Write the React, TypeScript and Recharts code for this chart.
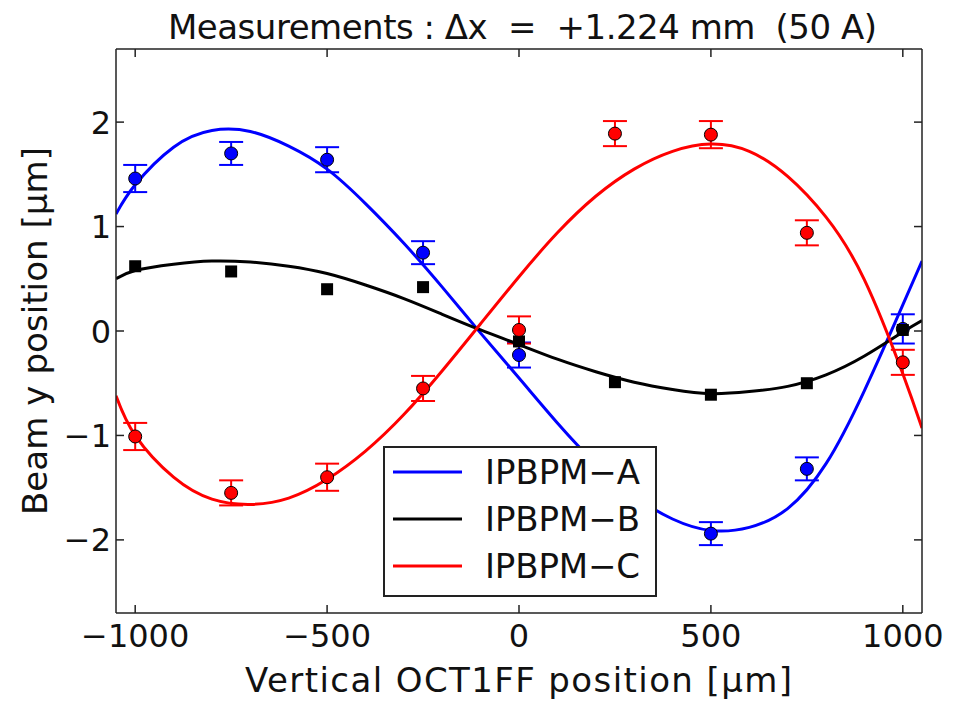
import { ComposedChart, ErrorBar, Line, Scatter, XAxis, YAxis } from "recharts";

// measured OCT1FF positions [um] and beam positions [um]
const positions = [-1000, -750, -500, -250, 0, 250, 500, 750, 1000];
const measA = [1.46, 1.7, 1.64, 0.75, -0.23, -1.45, -1.94, -1.32, 0.02];
const errA = [0.13, 0.11, 0.12, 0.11, 0.12, 0.12, 0.11, 0.11, 0.14];
const measB = [0.62, 0.57, 0.4, 0.42, -0.1, -0.49, -0.61, -0.5, 0.01];
const measC = [-1.01, -1.55, -1.4, -0.55, 0.01, 1.89, 1.88, 0.94, -0.3];
const errC = [0.13, 0.12, 0.13, 0.12, 0.13, 0.12, 0.13, 0.12, 0.12];

// fitted curves
const fitX = [-1050, -1000, -900, -800, -700, -600, -500, -400, -300, -200, -100, 0, 100, 200, 300, 400, 500, 600, 700, 800, 900, 1000, 1050];
const fitA = [1.12, 1.4, 1.76, 1.92, 1.91, 1.77, 1.55, 1.22, 0.84, 0.42, -0.02, -0.45, -0.88, -1.27, -1.58, -1.8, -1.91, -1.88, -1.7, -1.27, -0.57, 0.25, 0.67];
const fitB = [0.5, 0.58, 0.64, 0.67, 0.66, 0.62, 0.55, 0.44, 0.31, 0.16, 0.01, -0.13, -0.27, -0.39, -0.49, -0.56, -0.6, -0.58, -0.53, -0.42, -0.24, -0.01, 0.1];
const fitC = [-0.62, -1.0, -1.4, -1.61, -1.66, -1.6, -1.42, -1.15, -0.8, -0.38, 0.07, 0.52, 0.94, 1.29, 1.55, 1.72, 1.79, 1.72, 1.48, 1.09, 0.49, -0.41, -0.93];

const xTicks = [-1000, -500, 0, 500, 1000];
const yTicks = [-2, -1, 0, 1, 2];
const seriesNames = ["IPBPM\u2212A", "IPBPM\u2212B", "IPBPM\u2212C"];

const BLUE = "#0000ff";
const RED = "#ff0000";
const BLACK = "#000000";
const AXIS = "#222";

// no serif face in the sandbox, DejaVu Sans has about the same widths as the original labels
const font = "DejaVu Sans";

const toPoints = (xs: number[], ys: number[], es?: number[]) =>
  xs.map((x, i) => ({ x, y: ys[i], e: es ? es[i] : 0 }));

const fmt = (v: number) => (v < 0 ? "\u2212" + Math.abs(v) : String(v));

const BottomTick = (p: any) => (
  <g>
    <line x1={p.x} y1={p.y} x2={p.x} y2={p.y - 8} stroke={AXIS} strokeWidth={1.5} />
    <text x={p.x} y={p.y + 34} textAnchor="middle" style={{ fontFamily: font }} fontSize={32} fill="#111">
      {fmt(p.payload.value)}
    </text>
  </g>
);

const LeftTick = (p: any) => (
  <g>
    <line x1={p.x} y1={p.y} x2={p.x + 8} y2={p.y} stroke={AXIS} strokeWidth={1.5} />
    <text x={p.x - 5} y={p.y + 11.5} textAnchor="end" style={{ fontFamily: font }} fontSize={32} fill="#111">
      {fmt(p.payload.value)}
    </text>
  </g>
);

const TopTick = (p: any) => (
  <line x1={p.x} y1={p.y} x2={p.x} y2={p.y + 8} stroke={AXIS} strokeWidth={1.5} />
);

const RightTick = (p: any) => (
  <line x1={p.x} y1={p.y} x2={p.x - 8} y2={p.y} stroke={AXIS} strokeWidth={1.5} />
);

const dotShape = (color: string) => (p: any) => (
  <circle cx={p.cx} cy={p.cy} r={6.5} fill={color} stroke="#000" strokeWidth={1} />
);

const squareShape = (p: any) => <rect x={p.cx - 6} y={p.cy - 6} width={12} height={12} fill={BLACK} />;

function LegendBox() {
  const colors = [BLUE, BLACK, RED];
  return (
    <svg
      width={274}
      height={151}
      style={{ position: "absolute", left: 375, top: 438, pointerEvents: "none" }}
    >
      <rect x={1} y={1} width={272} height={149} fill="#fff" stroke={AXIS} strokeWidth={2} />
      {seriesNames.map((name, i) => (
        <g key={name}>
          <line x1={10} x2={79} y1={26 + i * 47} y2={26 + i * 47} stroke={colors[i]} strokeWidth={3} />
          <text
            x={102}
            y={38 + i * 47}
            style={{ fontFamily: font }}
            fontSize={34}
            textLength={155}
            lengthAdjust="spacing"
            fill="#111"
          >
            {name}
          </text>
        </g>
      ))}
    </svg>
  );
}

export default function App() {
  return (
    <div style={{ position: "relative", width: 946, height: 696 }}>
      <ComposedChart width={946} height={696} margin={{ top: 40, right: 31, bottom: 31, left: 38 }}>
        <XAxis
          xAxisId="b"
          type="number"
          dataKey="x"
          domain={[-1050, 1050]}
          allowDataOverflow
          ticks={xTicks}
          height={60}
          tickSize={0}
          tickMargin={0}
          tickLine={false}
          tick={<BottomTick />}
          axisLine={{ stroke: AXIS, strokeWidth: 1.5 }}
        />
        <XAxis
          xAxisId="t"
          orientation="top"
          type="number"
          dataKey="x"
          domain={[-1050, 1050]}
          allowDataOverflow
          ticks={xTicks}
          height={1}
          tickSize={0}
          tickMargin={0}
          tickLine={false}
          tick={<TopTick />}
          axisLine={{ stroke: AXIS, strokeWidth: 1.5 }}
        />
        <YAxis
          yAxisId="l"
          type="number"
          dataKey="y"
          domain={[-2.7, 2.7]}
          allowDataOverflow
          ticks={yTicks}
          width={70}
          tickSize={0}
          tickMargin={0}
          tickLine={false}
          tick={<LeftTick />}
          axisLine={{ stroke: AXIS, strokeWidth: 1.5 }}
        />
        <YAxis
          yAxisId="r"
          orientation="right"
          type="number"
          dataKey="y"
          domain={[-2.7, 2.7]}
          allowDataOverflow
          ticks={yTicks}
          width={1}
          tickSize={0}
          tickMargin={0}
          tickLine={false}
          tick={<RightTick />}
          axisLine={{ stroke: AXIS, strokeWidth: 1.5 }}
        />

        <Scatter xAxisId="b" yAxisId="l" data={toPoints(positions, measA, errA)} shape={dotShape(BLUE)} isAnimationActive={false}>
          <ErrorBar dataKey="e" direction="y" width={12} stroke={BLUE} strokeWidth={2} />
        </Scatter>
        <Scatter xAxisId="b" yAxisId="l" data={toPoints(positions, measB)} shape={squareShape} isAnimationActive={false} />
        <Scatter xAxisId="b" yAxisId="l" data={toPoints(positions, measC, errC)} shape={dotShape(RED)} isAnimationActive={false}>
          <ErrorBar dataKey="e" direction="y" width={12} stroke={RED} strokeWidth={2} />
        </Scatter>

        <Line xAxisId="b" yAxisId="l" data={toPoints(fitX, fitA)} dataKey="y" type="natural" stroke={BLUE} strokeWidth={3} dot={false} isAnimationActive={false} />
        <Line xAxisId="b" yAxisId="l" data={toPoints(fitX, fitB)} dataKey="y" type="natural" stroke={BLACK} strokeWidth={3} dot={false} isAnimationActive={false} />
        <Line xAxisId="b" yAxisId="l" data={toPoints(fitX, fitC)} dataKey="y" type="natural" stroke={RED} strokeWidth={3} dot={false} isAnimationActive={false} />

        <text
          x={160}
          y={31}
          style={{ fontFamily: font, whiteSpace: "pre" }}
          fontSize={34}
          textLength={709}
          lengthAdjust="spacing"
          fill="#111"
        >
          {"Measurements : \u0394x  =  +1.224 mm  (50 A)"}
        </text>
        <text x={237} y={684} style={{ fontFamily: font }} fontSize={34} textLength={547} lengthAdjust="spacing" fill="#111">
          Vertical OCT1FF position [{"\u03bc"}m]
        </text>
        <text
          x={39}
          y={507}
          transform="rotate(-90 39 507)"
          style={{ fontFamily: font }}
          fontSize={34}
          textLength={368}
          lengthAdjust="spacing"
          fill="#111"
        >
          Beam y position [{"\u03bc"}m]
        </text>
      </ComposedChart>
      <LegendBox />
    </div>
  );
}
